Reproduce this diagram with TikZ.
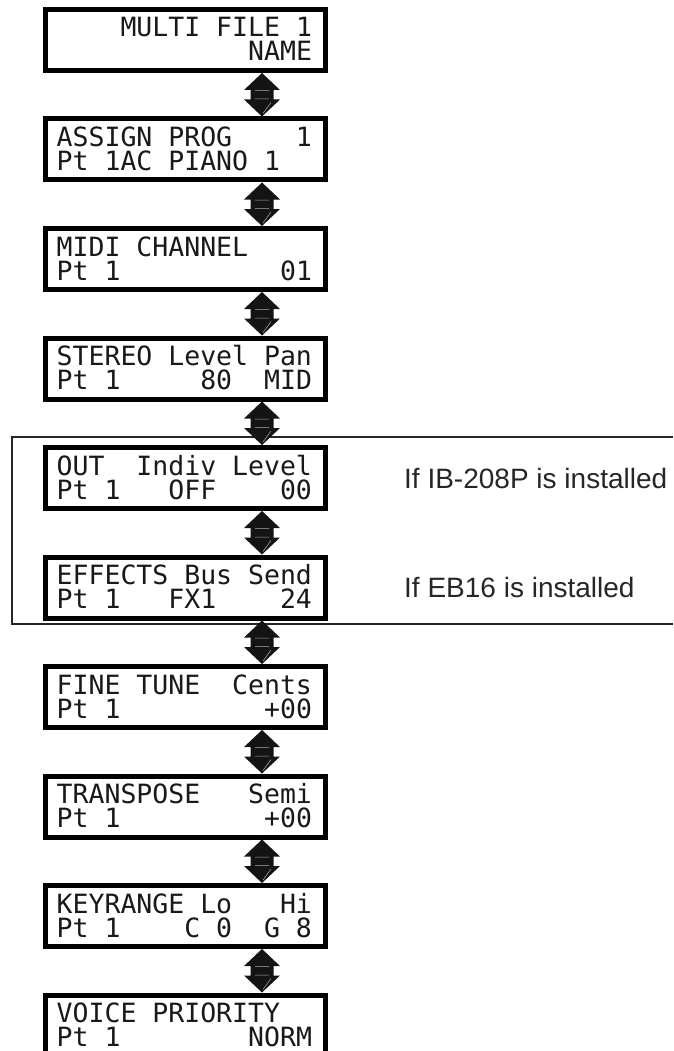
\documentclass[tikz,border=0pt]{standalone}
\usepackage{fontspec}
\newfontfamily\lcdfont{DejaVu Sans Mono}
\newfontfamily\labelfont{Liberation Sans}
\usetikzlibrary{calc}
\tikzset{
  lcdbox/.style={draw=black, line width=5pt, minimum width=280pt, minimum height=61pt, inner sep=0pt, fill=white},
  lcdtext/.style={font=\lcdfont\fontsize{26.5}{26.5}\selectfont, anchor=base west, inner sep=0pt, text=black!90},
  note/.style={font=\labelfont\fontsize{28}{28}\selectfont, anchor=base west, inner sep=0pt, text=black!85},
  frameline/.style={line width=1.4pt, draw=black!85},
  arrowfill/.style={fill=black!92},
  glint/.style={draw=gray!65, line width=0.5pt},
}
\newcommand\lcdarrow[2]{%
  \fill[arrowfill] let \p1=([xshift=-66pt]#1.south east), \p2=([xshift=-66pt]#2.north east) in
    (\x1,\y1) -- (\x1+18pt,\y1-17pt) -- (\x1+11.5pt,\y1-17pt) -- (\x1+11.5pt,\y2+17pt)
    -- (\x1+18pt,\y2+17pt) -- (\x1,\y2) -- (\x1-18pt,\y2+17pt) -- (\x1-11.5pt,\y2+17pt)
    -- (\x1-11.5pt,\y1-17pt) -- (\x1-18pt,\y1-17pt) -- cycle;
  \draw[glint] let \p1=([xshift=-66pt]#1.south east), \p2=([xshift=-66pt]#2.north east) in
    (\x1-7pt,\y1-17.5pt) -- (\x1+7pt,\y1-17.5pt)
    (\x1-7pt,\y2+17.5pt) -- (\x1+7pt,\y2+17.5pt)
    (\x1+9pt,\y2+14pt) -- (\x1+1pt,\y2+3pt);
}
\newcommand\lcdlines[4]{%
  \node[lcdtext] (#1a) at ([shift={(13.5pt,-30pt)}]#2.north west) {#3};
  \node[lcdtext] (#1b) at ([shift={(13.5pt,-54pt)}]#2.north west) {#4};
}
\begin{document}
\begin{tikzpicture}[x=1pt,y=-1pt]
\useasboundingbox (0,0) rectangle (673,1051);
\clip (0,0) rectangle (673,1051);
% boxes
\node[lcdbox] (b1) at (185.5,40) {};
\node[lcdbox] (b2) at (185.5,149.5) {};
\node[lcdbox] (b3) at (185.5,259) {};
\node[lcdbox] (b4) at (185.5,368.5) {};
\node[lcdbox] (b5) at (185.5,478) {};
\node[lcdbox] (b6) at (185.5,587.5) {};
\node[lcdbox] (b7) at (185.5,697) {};
\node[lcdbox] (b8) at (185.5,806.5) {};
\node[lcdbox] (b9) at (185.5,916) {};
\node[lcdbox] (b10) at (185.5,1025.5) {};
% frame of optional parameters
\draw[frameline] (673,437) -- (12,437) -- (12,624) -- (673,624);
% arrows
\lcdarrow{b1}{b2}
\lcdarrow{b2}{b3}
\lcdarrow{b3}{b4}
\lcdarrow{b4}{b5}
\lcdarrow{b5}{b6}
\lcdarrow{b6}{b7}
\lcdarrow{b7}{b8}
\lcdarrow{b8}{b9}
\lcdarrow{b9}{b10}
% texts
\lcdlines{t1}{b1}{~~~~MULTI~FILE~1}{~~~~~~~~~~~~NAME}
\lcdlines{t2}{b2}{ASSIGN~PROG~~~~1}{Pt~1AC~PIANO~1}
\lcdlines{t3}{b3}{MIDI~CHANNEL}{Pt~1~~~~~~~~~~01}
\lcdlines{t4}{b4}{STEREO~Level~Pan}{Pt~1~~~~~80~~MID}
\lcdlines{t5}{b5}{OUT~~Indiv~Level}{Pt~1~~~OFF~~~~00}
\lcdlines{t6}{b6}{EFFECTS~Bus~Send}{Pt~1~~~FX1~~~~24}
\lcdlines{t7}{b7}{FINE~TUNE~~Cents}{Pt~1~~~~~~~~~+00}
\lcdlines{t8}{b8}{TRANSPOSE~~~Semi}{Pt~1~~~~~~~~~+00}
\lcdlines{t9}{b9}{KEYRANGE~Lo~~~Hi}{Pt~1~~~~C~0~~G~8}
\lcdlines{t10}{b10}{VOICE~PRIORITY}{Pt~1~~~~~~~~NORM}
% notes
\node[note] (n1) at (404,488) {If IB-208P is installed};
\node[note] (n2) at (404,597.5) {If EB16 is installed};
\end{tikzpicture}
\end{document}
